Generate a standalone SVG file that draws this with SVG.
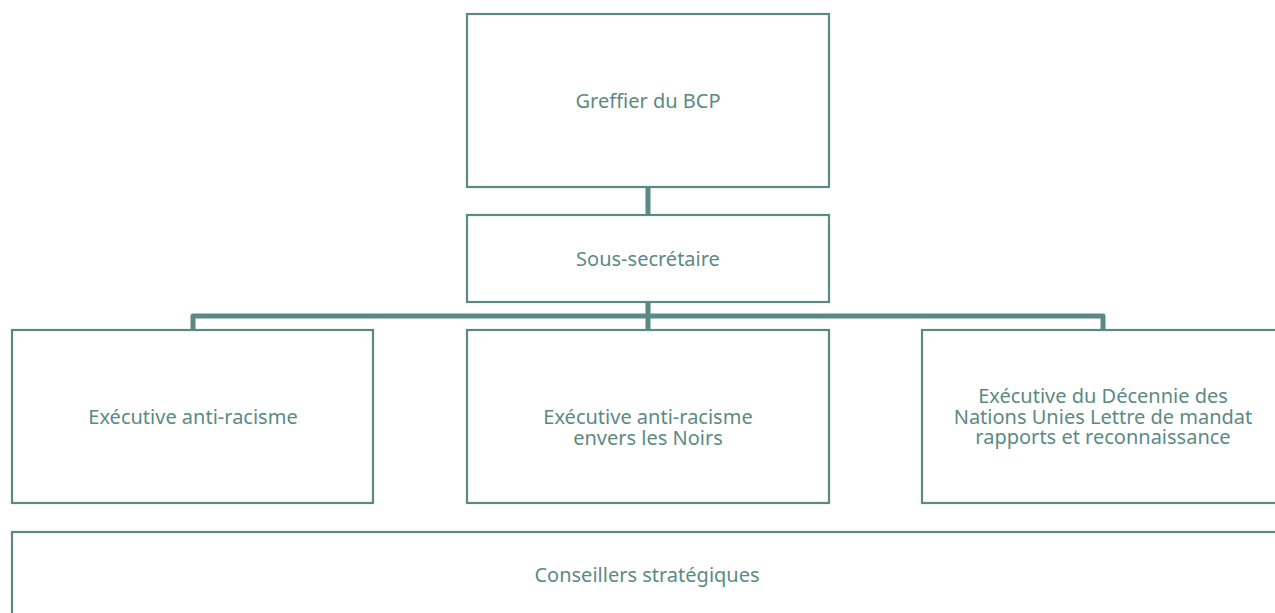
<svg xmlns="http://www.w3.org/2000/svg" width="1275" height="613" viewBox="0 0 1275 613">
<style>
.box{fill:#ffffff;stroke:#5b8a84;stroke-width:2.2}
.t{font-family:"Noto Sans","Open Sans",sans-serif;font-size:20px;fill:#5b8a84;text-anchor:middle}
.c{fill:none;stroke:#5b8a84;stroke-width:5;stroke-linejoin:round}
</style>
<rect width="1275" height="613" fill="#ffffff"/>
<g id="connectors">
<path class="c" d="M648 187V215"/>
<path class="c" d="M648 302V330"/>
<path class="c" d="M193 330V316H1103V330"/>
</g>
<g id="greffier">
<rect class="box" x="467" y="14" width="362" height="173"/>
<text class="t" x="648" y="108">Greffier du BCP</text>
</g>
<g id="sous-secretaire">
<rect class="box" x="467" y="215" width="362" height="87"/>
<text class="t" x="648" y="266">Sous-secrétaire</text>
</g>
<g id="exec-anti-racisme">
<rect class="box" x="12" y="330" width="361" height="173"/>
<text class="t" x="193" y="424">Exécutive anti-racisme</text>
</g>
<g id="exec-noirs">
<rect class="box" x="467" y="330" width="362" height="173"/>
<text class="t" x="648" y="424">Exécutive anti-racisme</text>
<text class="t" x="648" y="445">envers les Noirs</text>
</g>
<g id="exec-decennie">
<rect class="box" x="922" y="330" width="362" height="173"/>
<text class="t" x="1103" y="403">Exécutive du Décennie des</text>
<text class="t" x="1103" y="424">Nations Unies Lettre de mandat</text>
<text class="t" x="1103" y="444">rapports et reconnaissance</text>
</g>
<g id="conseillers">
<rect class="box" x="12" y="532" width="1280" height="100"/>
<text class="t" x="647" y="582">Conseillers stratégiques</text>
</g>
</svg>
